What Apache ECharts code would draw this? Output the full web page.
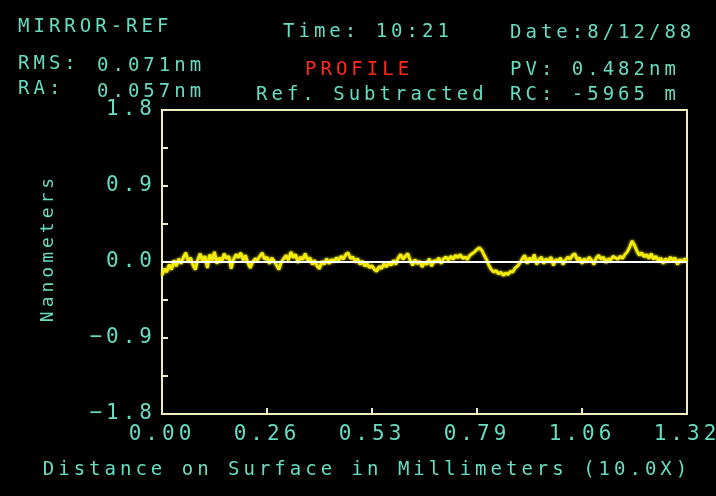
<!DOCTYPE html>
<html>
<head>
<meta charset="UTF-8">
<script src="https://cdn.jsdelivr.net/npm/echarts@6/dist/echarts.min.js"></script>
<style>
  body { margin: 0; background: #000; }
  #main { width: 716px; height: 496px; }
</style>
</head>
<body>
<div id="main"></div>
<script>
    // profile heights in nm, one sample every 0.006 mm (0.000 .. 1.320)
    const sampleStep = 0.006;
    const profile = [
        -0.16, -0.08, -0.12, -0.03, -0.09, 0.02, -0.05, 0.04, -0.02, 0.06,
        0.11, 0.00, 0.05, -0.04, -0.09, 0.03, 0.10, 0.01, 0.07, -0.07,
        0.09, 0.02, 0.12, -0.02, 0.05, 0.00, 0.10, 0.04, 0.07, -0.08,
        0.03, 0.09, 0.05, 0.11, 0.02, 0.08, -0.01, -0.07, 0.00, 0.04,
        0.02, 0.07, 0.11, 0.03, 0.06, -0.02, 0.05, 0.01, -0.04, -0.09,
        0.00, 0.04, 0.08, 0.02, 0.12, 0.05, 0.09, -0.01, 0.06, 0.03,
        0.10, 0.02, 0.05, -0.03, 0.02, -0.05, -0.08, 0.01, -0.03, 0.04,
        -0.02, 0.03, 0.00, 0.05, 0.02, 0.07, 0.03, 0.09, 0.11, 0.04,
        0.06, 0.00, 0.04, -0.03, 0.01, -0.05, -0.02, -0.07, -0.04, -0.09,
        -0.11, -0.05, -0.08, -0.02, -0.06, -0.01, -0.04, 0.02, -0.03, 0.05,
        0.09, 0.03, 0.07, 0.10, 0.02, -0.04, 0.03, -0.02, 0.01, -0.06,
        0.00, -0.03, 0.04, -0.05, 0.02, 0.00, 0.05, -0.02, 0.04, 0.06,
        0.02, 0.07, 0.03, 0.08, 0.05, 0.09, 0.04, 0.06, 0.03, 0.08,
        0.10, 0.12, 0.15, 0.17, 0.14, 0.08, 0.03, -0.04, -0.09, -0.12,
        -0.10, -0.14, -0.12, -0.16, -0.13, -0.15, -0.11, -0.12, -0.07, -0.05,
        -0.01, 0.04, 0.08, -0.02, 0.05, 0.01, 0.09, -0.03, 0.03, 0.06,
        -0.02, 0.04, 0.00, 0.06, -0.04, 0.03, 0.01, 0.05, -0.03, 0.02,
        0.06, 0.03, 0.08, 0.10, 0.02, 0.05, -0.02, 0.04, 0.00, 0.06,
        0.02, -0.03, 0.05, 0.08, 0.03, 0.06, -0.01, 0.04, 0.02, 0.07,
        0.05, 0.03, 0.07, 0.04, 0.09, 0.12, 0.18, 0.25, 0.20, 0.13,
        0.08, 0.11, 0.06, 0.09, 0.04, 0.10, 0.03, 0.07, 0.01, 0.05,
        -0.02, 0.04, 0.00, 0.06, 0.02, 0.05, -0.03, 0.03, 0.00, 0.04,
        0.01
    ];

    const xTickLabels = ['0.00', '0.26', '0.53', '0.79', '1.06', '1.32'];
    const yTickLabels = ['\u22121.8', '\u22120.9', '0.0', '0.9', '1.8'];

    const teal = '#66dcc0';
    const cream = '#f0ecc2';
    const font = 'DejaVu Sans Mono';

    var myChart = echarts.init(document.getElementById('main'));

    function headText(x, y, text, color) {
        return {
            type: 'text', x: x, y: y,
            style: {
                text: text, fill: color || teal, font: '19px "' + font + '"',
                align: 'left', verticalAlign: 'middle'
            }
        };
    }

    option = {
        backgroundColor: '#000',
        animation: false,
        grid: {
            left: 162, right: 29, top: 110, bottom: 82,
            show: true, borderColor: cream, borderWidth: 2
        },
        xAxis: {
            type: 'value',
            min: 0, max: 1.32, interval: 0.264,
            axisLine: { show: true, onZero: false, lineStyle: { color: cream, width: 2 } },
            axisTick: { show: true, inside: true, length: 6, lineStyle: { color: cream, width: 2 } },
            splitLine: { show: false },
            axisLabel: {
                color: teal, fontFamily: font, fontSize: 21, margin: 10,
                formatter: function (v) { return xTickLabels[Math.round(v / 0.264)]; }
            }
        },
        yAxis: {
            type: 'value',
            min: -1.8, max: 1.8, interval: 0.45,
            axisLine: { show: true, onZero: false, lineStyle: { color: cream, width: 2 } },
            axisTick: { show: true, inside: true, length: 6, lineStyle: { color: cream, width: 2 } },
            splitLine: { show: false },
            axisLabel: {
                color: teal, fontFamily: font, fontSize: 21, margin: 6,
                formatter: function (v) {
                    let i = Math.round((v + 1.8) / 0.45);
                    return i % 2 === 0 ? yTickLabels[i / 2] : '';
                }
            }
        },
        graphic: [
            headText(18, 27, 'MIRROR-REF'),
            headText(283, 32, 'Time: 10:21'),
            headText(510, 33, 'Date:8/12/88'),
            headText(18, 64, 'RMS:'),
            headText(97, 66, '0.071nm'),
            headText(18, 89, 'RA:'),
            headText(97, 92, '0.057nm'),
            headText(305, 70, 'PROFILE', '#ff2a18'),
            headText(256, 95, 'Ref. Subtracted'),
            headText(510, 70, 'PV: 0.482nm'),
            headText(510, 95, 'RC: -5965 m'),
            {
                type: 'text', x: 48, y: 248, rotation: Math.PI / 2,
                style: {
                    text: 'Nanometers', fill: teal, font: '18px "' + font + '"',
                    align: 'center', verticalAlign: 'middle'
                }
            },
            {
                type: 'text', x: 367, y: 470,
                style: {
                    text: 'Distance on Surface in Millimeters (10.0X)', fill: teal,
                    font: '19px "' + font + '"', align: 'center', verticalAlign: 'middle'
                }
            }
        ],
        series: [{
            type: 'line',
            data: profile.map(function (v, i) { return [i * sampleStep, v]; }),
            symbol: 'none',
            lineStyle: { color: '#f4ec08', width: 2.8, shadowColor: '#f4ec08', shadowBlur: 3 },
            markLine: {
                silent: true,
                symbol: 'none',
                label: { show: false },
                lineStyle: { color: '#ffffff', width: 2, type: 'solid' },
                data: [{ yAxis: 0 }]
            }
        }]
    };
    myChart.setOption(option);

    // the old screen font is very wide: spread the letters once the canvas exists, then draw again
    myChart.getZr().flush();
    document.querySelectorAll('#main canvas').forEach(function (c) {
        var ctx = c.getContext('2d');
        if ('letterSpacing' in ctx) ctx.letterSpacing = '4px';
    });
    myChart.setOption(option, true);
</script>
</body>
</html>
